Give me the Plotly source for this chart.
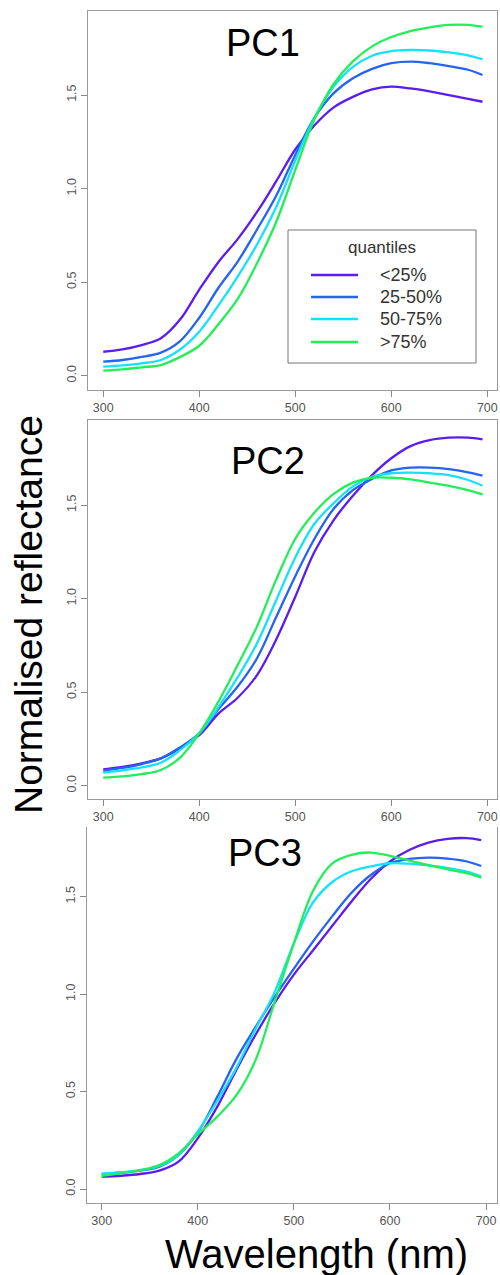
import plotly.graph_objects as go

W, H = 500, 1275

# Wavelength grid (nm)
wavelength = [300, 320, 340, 360, 380, 400, 420, 440, 460, 480, 500,
              520, 540, 560, 580, 600, 620, 640, 660, 680, 695]

quantiles = ["<25%", "25-50%", "50-75%", ">75%"]
colors = ["#5B1CF0", "#2563F2", "#14E1FA", "#22EE5A"]

# PC1 mean normalised reflectance per quantile
pc1_q1 = [0.128, 0.141, 0.164, 0.20, 0.30, 0.46, 0.608, 0.73, 0.874, 1.038, 1.209,
          1.338, 1.434, 1.49, 1.53, 1.545, 1.535, 1.52, 1.50, 1.48, 1.464]
pc1_q2 = [0.075, 0.084, 0.10, 0.123, 0.185, 0.31, 0.47, 0.61, 0.78, 0.96, 1.18,
          1.379, 1.51, 1.59, 1.64, 1.67, 1.678, 1.67, 1.655, 1.635, 1.607]
pc1_q3 = [0.048, 0.055, 0.066, 0.084, 0.14, 0.235, 0.376, 0.53, 0.70, 0.90, 1.15,
          1.38, 1.545, 1.65, 1.71, 1.735, 1.741, 1.738, 1.728, 1.712, 1.691]
pc1_q4 = [0.027, 0.034, 0.045, 0.057, 0.10, 0.16, 0.275, 0.41, 0.60, 0.82, 1.10,
          1.37, 1.56, 1.68, 1.76, 1.81, 1.842, 1.862, 1.875, 1.875, 1.865]

# PC2
pc2_q1 = [0.087, 0.10, 0.12, 0.146, 0.20, 0.27, 0.385, 0.47, 0.59, 0.78, 1.01,
          1.25, 1.42, 1.55, 1.66, 1.75, 1.815, 1.847, 1.86, 1.86, 1.851]
pc2_q2 = [0.08, 0.095, 0.116, 0.146, 0.205, 0.28, 0.41, 0.53, 0.68, 0.90, 1.12,
          1.32, 1.48, 1.58, 1.64, 1.685, 1.70, 1.70, 1.692, 1.675, 1.657]
pc2_q3 = [0.07, 0.082, 0.098, 0.123, 0.19, 0.28, 0.42, 0.58, 0.76, 0.99, 1.22,
          1.40, 1.51, 1.60, 1.651, 1.67, 1.673, 1.67, 1.66, 1.634, 1.603]
pc2_q4 = [0.043, 0.05, 0.062, 0.084, 0.15, 0.28, 0.45, 0.645, 0.85, 1.10, 1.32,
          1.46, 1.56, 1.62, 1.646, 1.646, 1.637, 1.62, 1.603, 1.58, 1.557]

# PC3
pc3_q1 = [0.063, 0.068, 0.077, 0.094, 0.14, 0.26, 0.42, 0.61, 0.79, 0.955, 1.10,
          1.225, 1.35, 1.475, 1.59, 1.68, 1.739, 1.777, 1.796, 1.80, 1.79]
pc3_q2 = [0.077, 0.084, 0.094, 0.115, 0.174, 0.29, 0.47, 0.665, 0.83, 0.985, 1.13,
          1.27, 1.40, 1.52, 1.611, 1.671, 1.693, 1.70, 1.695, 1.68, 1.657]
pc3_q3 = [0.077, 0.086, 0.097, 0.118, 0.174, 0.295, 0.45, 0.62, 0.82, 1.01, 1.26,
          1.47, 1.575, 1.63, 1.655, 1.671, 1.669, 1.66, 1.647, 1.628, 1.603]
pc3_q4 = [0.067, 0.08, 0.097, 0.123, 0.183, 0.28, 0.37, 0.48, 0.66, 0.96, 1.26,
          1.53, 1.67, 1.714, 1.726, 1.709, 1.685, 1.662, 1.64, 1.62, 1.597]

panels = [
    ("PC1", [pc1_q1, pc1_q2, pc1_q3, pc1_q4]),
    ("PC2", [pc2_q1, pc2_q2, pc2_q3, pc2_q4]),
    ("PC3", [pc3_q1, pc3_q2, pc3_q3, pc3_q4]),
]

x_ticks = [300, 400, 500, 600, 700]
y_ticks = [0.0, 0.5, 1.0, 1.5]

FONT = "Liberation Sans, Arial, sans-serif"
BOX = "#9a9a9a"


def px_x(v):
    return v / W


def px_y(v):
    return 1 - v / H


# plot-area boxes in pixels: (left, right, top, bottom), axis ranges
frames = [
    dict(l=88.0, r=497.0, t=11.0, b=390.0, xr=[284.1, 710.1], yr=[-0.0764, 1.949], top=True),
    dict(l=88.0, r=497.0, t=420.0, b=799.0, xr=[284.1, 710.1], yr=[-0.071, 1.9546], top=True),
    dict(l=86.7, r=497.0, t=827.0, b=1203.0, xr=[284.4, 711.4], yr=[-0.0718, 1.857], top=False),
]

fig = go.Figure()
layout = dict(
    width=W, height=H,
    margin=dict(l=0, r=0, t=0, b=0),
    paper_bgcolor="white", plot_bgcolor="white",
    showlegend=False,
    font=dict(family=FONT, color="#444"),
)

annotations = []
shapes = []

for i, ((name, series), fr) in enumerate(zip(panels, frames)):
    n = "" if i == 0 else str(i + 1)
    xa, ya = "x" + n, "y" + n
    for label, col, vals in zip(quantiles, colors, series):
        fig.add_trace(go.Scatter(
            x=wavelength, y=vals, mode="lines", name=label,
            line=dict(color=col, width=2.3, shape="spline", smoothing=1.0),
            xaxis=xa, yaxis=ya, showlegend=False,
        ))
    common = dict(showgrid=False, zeroline=False, showline=True, linecolor=BOX,
                  linewidth=1, ticks="outside", ticklen=6, tickwidth=1,
                  tickcolor="#888", tickfont=dict(family=FONT, size=12.5, color="#555"))
    layout["xaxis" + n] = dict(
        domain=[px_x(fr["l"]), px_x(fr["r"])], range=fr["xr"],
        anchor=ya, tickvals=x_ticks, mirror=fr["top"], **common)
    layout["yaxis" + n] = dict(
        domain=[px_y(fr["b"]), px_y(fr["t"])], range=fr["yr"],
        anchor=xa, tickvals=y_ticks, tickformat=".1f", tickangle=-90,
        mirror=True, **common)

# Panel titles
title_pos = [(263, 43), (268, 461), (265, 853)]
for (name, _), (tx, ty) in zip(panels, title_pos):
    annotations.append(dict(
        text=name, x=px_x(tx), y=px_y(ty), xref="paper", yref="paper",
        xanchor="center", yanchor="middle", showarrow=False,
        font=dict(family=FONT, size=38, color="black")))

# Legend inside the PC1 panel
lg_l, lg_r, lg_t, lg_b = 288, 476, 230, 363
shapes.append(dict(type="rect", xref="paper", yref="paper",
                   x0=px_x(lg_l), x1=px_x(lg_r), y0=px_y(lg_b), y1=px_y(lg_t),
                   line=dict(color="#777", width=1), fillcolor="white", layer="below"))
annotations.append(dict(
    text="quantiles", x=px_x(382), y=px_y(247), xref="paper", yref="paper",
    xanchor="center", yanchor="middle", showarrow=False,
    font=dict(family=FONT, size=17, color="#333")))
entry_y = [275, 297, 319, 342]
for label, col, ey in zip(quantiles, colors, entry_y):
    shapes.append(dict(type="line", xref="paper", yref="paper",
                       x0=px_x(311), x1=px_x(358), y0=px_y(ey), y1=px_y(ey),
                       line=dict(color=col, width=2.6)))
    annotations.append(dict(
        text=label, x=px_x(378), y=px_y(ey), xref="paper", yref="paper",
        xanchor="left", yanchor="middle", showarrow=False,
        font=dict(family=FONT, size=18, color="#333")))

# Shared axis titles
annotations.append(dict(
    text="Normalised reflectance", x=px_x(28), y=px_y(615), xref="paper", yref="paper",
    xanchor="center", yanchor="middle", textangle=-90, showarrow=False,
    font=dict(family=FONT, size=39, color="black")))
annotations.append(dict(
    text="Wavelength (nm)", x=px_x(316), y=px_y(1254), xref="paper", yref="paper",
    xanchor="center", yanchor="middle", showarrow=False,
    font=dict(family=FONT, size=40, color="black")))

layout["annotations"] = annotations
layout["shapes"] = shapes
fig.update_layout(**layout)

fig.write_html("out.html")
